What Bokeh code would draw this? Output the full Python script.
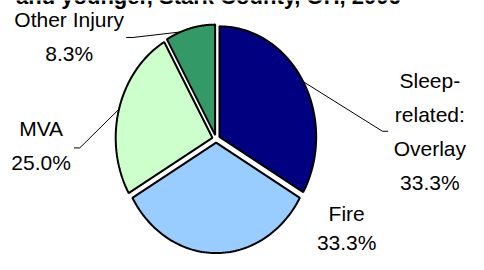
import numpy as np
from bokeh.plotting import figure
from bokeh.models import Range1d
from bokeh.core.properties import value
from bokeh.embed import file_html
from bokeh.resources import INLINE

# ---- data ----
title_text = "and younger, Stark County, OH, 2006"
categories = ["Sleep-related: Overlay", "Fire", "MVA", "Other Injury"]
label_lines = [["Sleep-", "related:", "Overlay"], ["Fire"], ["MVA"], ["Other Injury"]]
percents = [33.3, 33.3, 25.0, 8.3]

# ---- styles / layout ----
colors = ["#000080", "#99CCFF", "#CCFFCC", "#339966"]
FONT = "Liberation Sans"
FS = "21px"
W, H = 484, 270          # reference coordinate space (mapped onto the 468x254 plot)
CX, CY = 223, 147        # ellipse centre
A, B = 100, 117.5        # semi axes
EXPLODE = 4
label_anchor = [(444, 85), (358, 226), (42, 136), (71, 20)]
label_step = [36, 31, 36, 36]
leader = [  # (angle on arc, elbow, end)  -- None = no leader
    (60, (395, 139), (401, 139)),
    None,
    (285, (82, 156.7), (76, 156.7)),
    (339, (137, 39.3), (130, 39.3)),
]

p = figure(width=468, height=254, output_backend="svg", toolbar_location=None,
           x_range=Range1d(0, W), y_range=Range1d(H, 0), min_border=0)
p.xaxis.visible = False
p.yaxis.visible = False
p.grid.visible = False
p.outline_line_color = None

total = sum(percents)
ends = np.cumsum(percents) / total * 360.0
starts = np.concatenate([[0.0], ends[:-1]])

xs, ys, centres = [], [], []
for s, e in zip(starts, ends):
    mid = np.radians((s + e) / 2)
    ox, oy = EXPLODE * np.sin(mid), -EXPLODE * np.cos(mid)
    cx, cy = CX + ox, CY + oy
    centres.append((cx, cy))
    t = np.radians(np.linspace(s, e, 80))
    xs.append(list(np.concatenate([[cx], cx + A * np.sin(t)])))
    ys.append(list(np.concatenate([[cy], cy - B * np.cos(t)])))

p.patches(xs, ys, fill_color=colors, line_color="black", line_width=2)

# leader lines
for i, ld in enumerate(leader):
    if ld is None:
        continue
    ang, elbow, end = ld
    cx, cy = centres[i]
    r = np.radians(ang)
    px, py = cx + A * np.sin(r), cy - B * np.cos(r)
    p.line([px, elbow[0], end[0]], [py, elbow[1], end[1]], line_color="black", line_width=1)

# labels
tx, ty, tt = [], [], []
for i, lines in enumerate(label_lines):
    ax, ay = label_anchor[i]
    allines = lines + [f"{percents[i]:.1f}%"]
    for k, ln in enumerate(allines):
        tx.append(ax)
        ty.append(ay + k * label_step[i])
        tt.append(ln)
p.text(x=tx, y=ty, text=tt, text_align="center", text_baseline="middle",
       text_font=value(FONT), text_font_size=FS, text_color="black")

# title (only its lower part is visible in the reference)
p.text(x=[215], y=[-4], text=[title_text], text_align="center", text_baseline="alphabetic",
       text_font=value(FONT), text_font_size="22px", text_font_style="bold", text_color="black")

open("out.html", "w").write(file_html(p, INLINE))
